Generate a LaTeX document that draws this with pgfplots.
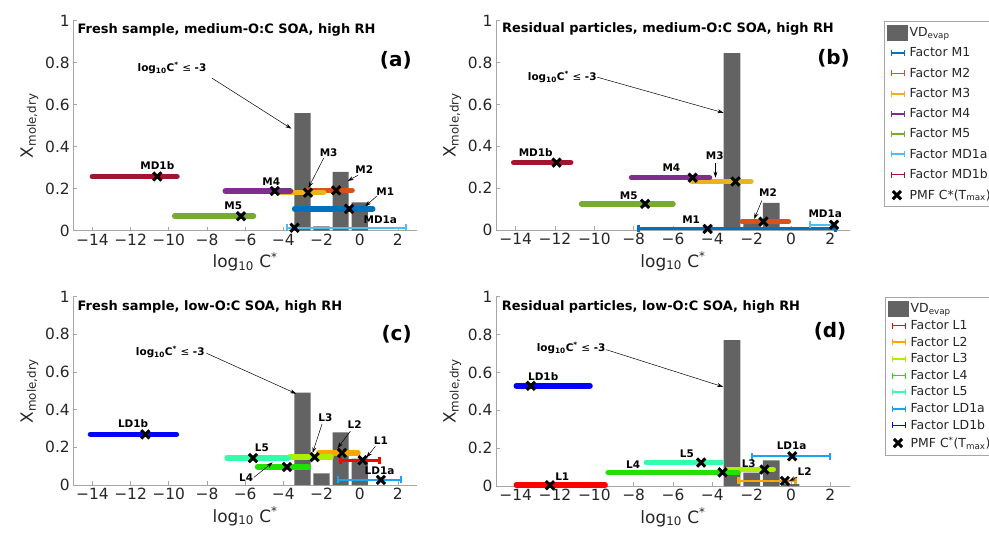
\documentclass[border=0pt]{standalone}
\usepackage{fontspec}
\setmainfont{DejaVu Sans}
\setsansfont{DejaVu Sans}
\usepackage{pgfplots}
\pgfplotsset{compat=1.18}
\usetikzlibrary{arrows.meta}

\definecolor{barcol}{HTML}{636363}
\definecolor{axcol}{HTML}{A6A6A6}
\definecolor{txtcol}{HTML}{262626}
\definecolor{cM1}{HTML}{0072BD}
\definecolor{cM2}{HTML}{D95319}
\definecolor{cM3}{HTML}{EDB120}
\definecolor{cM4}{HTML}{7E2F8E}
\definecolor{cM5}{HTML}{77AC30}
\definecolor{cMDa}{HTML}{4DBEEE}
\definecolor{cMDb}{HTML}{A2142F}
\definecolor{cL1}{HTML}{FF0000}
\definecolor{cL2}{HTML}{FFA500}
\definecolor{cL3}{HTML}{AAF000}
\definecolor{cL4}{HTML}{22E000}
\definecolor{cL5}{HTML}{33FFAA}
\definecolor{cLDa}{HTML}{1AA3F0}
\definecolor{cLDb}{HTML}{0000FF}

\pgfplotsset{
  panel/.style={
    scale only axis, xmin=-15, xmax=3, ymin=0, ymax=1,
    axis x line*=bottom, axis y line*=left,
    axis line style={axcol, line width=0.6bp, -},
    xtick={-14,-12,...,2}, xticklabels={−14,−12,−10,−8,−6,−4,−2,0,2},
    ytick={0,0.2,0.4,0.6,0.8,1}, yticklabels={0,0.2,0.4,0.6,0.8,1},
    tick align=inside, major tick length=4bp,
    tick style={axcol, line width=0.6bp},
    ticklabel style={font=\fontsize{15.5}{18}\selectfont, text=txtcol},
    xlabel={log\textsubscript{10} C\textsuperscript{*}},
    ylabel={X\textsubscript{mole,dry}},
    label style={font=\fontsize{17}{20}\selectfont, text=txtcol},
    clip=false,
  },
  fk/.style={draw=#1, line width=5.5bp, line cap=round},
  fn/.style={draw=#1, line width=2.2bp, arrows={Bar[width=7bp]-Bar[width=7bp]}},
  bars/.style={ybar, bar width=0.85, fill=barcol, draw=none},
  pmf/.style={only marks, mark=x, mark size=5.8bp, mark options={line width=3bp, black}},
  errleg/.style={legend image code/.code={\draw[line width=1.7bp] (3bp,0bp)--(16bp,0bp) (3bp,-3bp)--(3bp,3bp) (16bp,-3bp)--(16bp,3bp);}},
  vdleg/.style={legend image code/.code={\fill[barcol] (-1bp,-7.5bp) rectangle (19bp,7.5bp);}},
  legbox/.style={legend style={draw=axcol, fill=white, text=txtcol,
      font=\fontsize{12.5}{14}\selectfont, legend cell align=left,
      row sep=5.6bp, inner xsep=3bp, inner ysep=4bp}},
}
\tikzset{
  lab/.style={font=\bfseries\fontsize{10.5}{12}\selectfont, inner sep=0pt, text=black},
  arr/.style={-{Stealth[length=6bp,width=4bp]}, line width=0.5bp, black},
  ttl/.style={anchor=west, font=\bfseries\fontsize{13}{15}\selectfont, inner sep=0pt},
  pnl/.style={anchor=east, font=\bfseries\fontsize{20}{22}\selectfont, inner sep=0pt},
}
\newcommand{\logtxt}{log\textsubscript{10}C\textsuperscript{*} {\mdseries ≤} -3}

\begin{document}
\begin{tikzpicture}
\path[use as bounding box] (0bp,0bp) rectangle (989bp,537bp);

% ---------------- (a)
\begin{axis}[panel, at={(73.3bp,306.3bp)}, anchor=south west, width=343.7bp, height=210bp]
\addplot[bars] coordinates {(-3,0.56) (-2,0.02) (-1,0.28) (0,0.135)};
\addplot[fk=cM1] coordinates {(-3.41,0.104) (0.68,0.104)};
\addplot[fk=cM2] coordinates {(-2.71,0.192) (-0.40,0.192)};
\addplot[fk=cM3] coordinates {(-4.25,0.181) (-1.89,0.181)};
\addplot[fk=cM4] coordinates {(-7.04,0.189) (-3.63,0.189)};
\addplot[fk=cM5] coordinates {(-9.69,0.069) (-5.56,0.069)};
\addplot[fn=cMDa] coordinates {(-3.86,0.014) (2.48,0.014)};
\addplot[fk=cMDb] coordinates {(-14.0,0.258) (-9.57,0.258)};
\addplot[pmf] coordinates {(-0.56,0.104) (-1.23,0.192) (-2.71,0.181) (-4.45,0.189) (-6.22,0.069) (-3.41,0.014) (-10.6,0.258)};
\node[ttl] at (rel axis cs:0.012,0.957) {Fresh sample, medium-O:C SOA, high RH};
\node[pnl] at (rel axis cs:0.985,0.81) {(a)};
\node[lab] at (axis cs:-9.83,0.774) {\logtxt};
\draw[arr] (axis cs:-7.73,0.726) -- (axis cs:-3.58,0.486);
\node[lab] at (axis cs:-1.63,0.37) {M3};
\draw[arr] (axis cs:-1.89,0.345) -- (axis cs:-2.68,0.205);
\node[lab] at (axis cs:0.24,0.29) {M2};
\draw[arr] (axis cs:-0.09,0.264) -- (axis cs:-0.63,0.237);
\node[lab] at (axis cs:1.34,0.184) {M1};
\draw[arr] (axis cs:0.9,0.165) -- (axis cs:0.29,0.117);
\node[lab] at (axis cs:1.08,0.053) {MD1a};
\node[lab] at (axis cs:-4.63,0.232) {M4};
\node[lab] at (axis cs:-6.62,0.117) {M5};
\node[lab] at (axis cs:-10.6,0.309) {MD1b};
\end{axis}

% ---------------- (b)
\begin{axis}[panel, at={(496bp,307bp)}, anchor=south west, width=354bp, height=209.3bp,
  legbox, legend style={at={(1.096,1)}, anchor=north west}]
\addlegendimage{vdleg}
\addlegendimage{errleg, cM1}
\addlegendimage{errleg, cM2}
\addlegendimage{errleg, cM3}
\addlegendimage{errleg, cM4}
\addlegendimage{errleg, cM5}
\addlegendimage{errleg, cMDa}
\addlegendimage{errleg, cMDb}
\addlegendimage{pmf}
\addplot[bars] coordinates {(-3,0.845) (-2,0.03) (-1,0.13) (0,0)};
\addplot[fn=cM1, line width=3bp] coordinates {(-7.82,0.005) (2.36,0.005)};
\addplot[fk=cM2] coordinates {(-2.49,0.04) (-0.13,0.04)};
\addplot[fk=cM3] coordinates {(-5.03,0.232) (-2.04,0.232)};
\addplot[fk=cM4] coordinates {(-8.11,0.25) (-4.14,0.25)};
\addplot[fk=cM5] coordinates {(-10.65,0.125) (-6.0,0.125)};
\addplot[fn=cMDa] coordinates {(0.89,0.025) (2.33,0.025)};
\addplot[fk=cMDb] coordinates {(-14.1,0.322) (-11.2,0.322)};
\addplot[pmf] coordinates {(-4.24,0.005) (-1.40,0.04) (-2.82,0.232) (-5.0,0.25) (-7.42,0.125) (2.19,0.025) (-11.92,0.322)};
\legend{VD\textsubscript{evap}, Factor M1, Factor M2, Factor M3, Factor M4, Factor M5, Factor MD1a, Factor MD1b, PMF C*(T\textsubscript{max})}
\node[ttl] at (rel axis cs:0.017,0.959) {Residual particles, medium-O:C SOA, high RH};
\node[pnl] at (rel axis cs:1.0,0.82) {(b)};
\node[lab] at (axis cs:-11.63,0.73) {\logtxt};
\draw[arr] (axis cs:-9.85,0.73) -- (axis cs:-3.43,0.56);
\node[lab] at (axis cs:-12.98,0.37) {MD1b};
\node[lab] at (axis cs:-6.08,0.30) {M4};
\node[lab] at (axis cs:-3.88,0.357) {M3};
\draw[arr] (axis cs:-3.84,0.32) -- (axis cs:-3.84,0.25);
\node[lab] at (axis cs:-8.25,0.165) {M5};
\node[lab] at (axis cs:-1.17,0.178) {M2};
\draw[arr] (axis cs:-1.48,0.141) -- (axis cs:-1.87,0.053);
\node[lab] at (axis cs:-5.08,0.05) {M1};
\node[lab] at (axis cs:1.74,0.077) {MD1a};
\end{axis}

% ---------------- (c)
\begin{axis}[panel, at={(73.3bp,52bp)}, anchor=south west, width=343.7bp, height=188.3bp]
\addplot[bars] coordinates {(-3,0.49) (-2,0.062) (-1,0.28) (0,0.14)};
\addplot[fn=cL1, line width=3bp] coordinates {(-1.10,0.132) (1.13,0.132)};
\addplot[fk=cL2] coordinates {(-2.15,0.17) (-0.09,0.17)};
\addplot[fk=cL3] coordinates {(-3.67,0.148) (-1.50,0.148)};
\addplot[fk=cL4] coordinates {(-5.35,0.096) (-2.68,0.096)};
\addplot[fk=cL5] coordinates {(-6.95,0.143) (-3.75,0.143)};
\addplot[fn=cLDa] coordinates {(-1.19,0.027) (2.21,0.027)};
\addplot[fk=cLDb] coordinates {(-14.1,0.269) (-9.6,0.269)};
\addplot[pmf] coordinates {(0.15,0.132) (-0.93,0.17) (-2.36,0.148) (-3.81,0.096) (-5.59,0.143) (1.11,0.027) (-11.23,0.269)};
\node[ttl] at (rel axis cs:0.012,0.947) {Fresh sample, low-O:C SOA, high RH};
\node[pnl] at (rel axis cs:0.985,0.80) {(c)};
\node[lab] at (axis cs:-9.92,0.707) {\logtxt};
\draw[arr] (axis cs:-8.03,0.70) -- (axis cs:-3.33,0.485);
\node[lab] at (axis cs:-11.87,0.325) {LD1b};
\node[lab] at (axis cs:-5.12,0.2) {L5};
\node[lab] at (axis cs:-5.95,0.04) {L4};
\draw[arr] (axis cs:-5.55,0.04) -- (axis cs:-4.56,0.12);
\node[lab] at (axis cs:-1.8,0.36) {L3};
\draw[arr] (axis cs:-1.97,0.325) -- (axis cs:-2.47,0.17);
\node[lab] at (axis cs:-0.27,0.319) {L2};
\draw[arr] (axis cs:-0.49,0.285) -- (axis cs:-1.16,0.196);
\node[lab] at (axis cs:1.11,0.235) {L1};
\draw[arr] (axis cs:0.82,0.205) -- (axis cs:0.35,0.146);
\node[lab] at (axis cs:1.04,0.078) {LD1a};
\end{axis}

% ---------------- (d)
\begin{axis}[panel, at={(496bp,51bp)}, anchor=south west, width=354bp, height=189.3bp,
  legbox, legend style={at={(1.099,1)}, anchor=north west, row sep=2bp}]
\addlegendimage{vdleg}
\addlegendimage{errleg, cL1}
\addlegendimage{errleg, cL2}
\addlegendimage{errleg, cL3}
\addlegendimage{errleg, cL4}
\addlegendimage{errleg, cL5}
\addlegendimage{errleg, cLDa}
\addlegendimage{errleg, cLDb}
\addlegendimage{pmf}
\addplot[bars] coordinates {(-3,0.771) (-2,0.07) (-1,0.136) (0,0.01)};
\addplot[fk=cL1] coordinates {(-13.97,0.004) (-9.45,0.004)};
\addplot[fn=cL2] coordinates {(-2.73,0.027) (0.28,0.027)};
\addplot[fk=cL3] coordinates {(-3.23,0.087) (-0.90,0.087)};
\addplot[fk=cL4] coordinates {(-9.30,0.072) (-2.70,0.072)};
\addplot[fk=cL5] coordinates {(-7.36,0.124) (-3.53,0.124)};
\addplot[fn=cLDa] coordinates {(-2.03,0.157) (2.03,0.157)};
\addplot[fk=cLDb] coordinates {(-13.97,0.529) (-10.22,0.529)};
\addplot[pmf] coordinates {(-12.26,0.004) (-0.31,0.027) (-1.35,0.087) (-3.48,0.072) (-4.57,0.124) (0.06,0.157) (-13.23,0.529)};
\legend{VD\textsubscript{evap}, Factor L1, Factor L2, Factor L3, Factor L4, Factor L5, Factor LD1a, Factor LD1b, PMF C\textsuperscript{*}(T\textsubscript{max})}
\node[ttl] at (rel axis cs:0.016,0.947) {Residual particles, low-O:C SOA, high RH};
\node[pnl] at (rel axis cs:0.99,0.815) {(d)};
\node[lab] at (axis cs:-11.18,0.727) {\logtxt};
\draw[arr] (axis cs:-9.39,0.72) -- (axis cs:-3.45,0.524);
\node[lab] at (axis cs:-12.6,0.58) {LD1b};
\node[lab] at (axis cs:-11.63,0.048) {L1};
\node[lab] at (axis cs:-8.03,0.115) {L4};
\node[lab] at (axis cs:-5.29,0.171) {L5};
\node[lab] at (axis cs:-2.15,0.118) {L3};
\node[lab] at (axis cs:0.69,0.078) {L2};
\draw[arr] (axis cs:0.33,0.048) -- (axis cs:-0.09,0.027);
\node[lab] at (axis cs:0.03,0.215) {LD1a};
\end{axis}
\end{tikzpicture}
\end{document}
